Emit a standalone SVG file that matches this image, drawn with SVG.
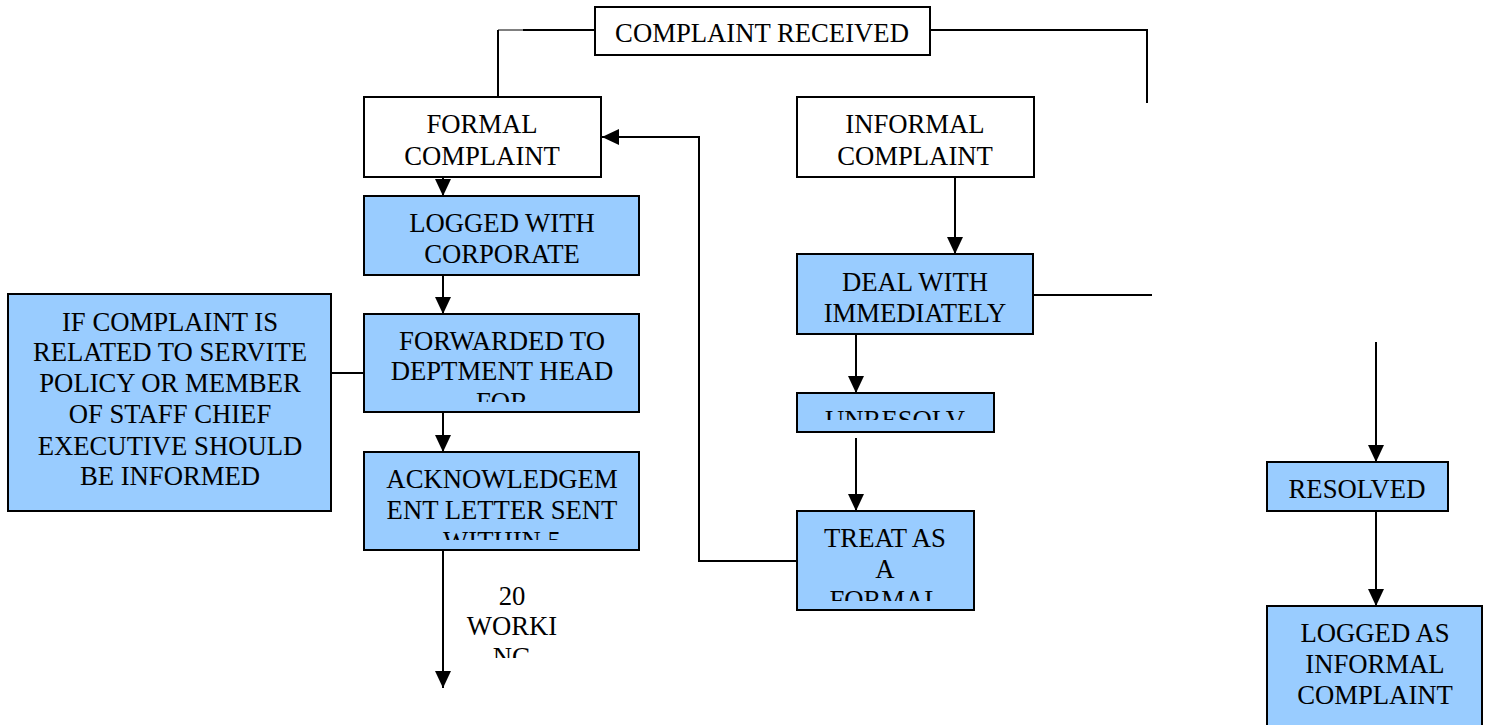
<svg xmlns="http://www.w3.org/2000/svg" width="1490" height="725" viewBox="0 0 1490 725">
<style>
.box{fill:#ffffff;stroke:#000000;stroke-width:2}
.blue{fill:#99ccff;stroke:#000000;stroke-width:2}
.t{font-family:"Liberation Serif","Times New Roman","DejaVu Serif",serif;font-size:26.7px;fill:#000000;text-anchor:middle}
.ln{fill:none;stroke:#000000;stroke-width:2}
.thin{fill:none;stroke:#000000;stroke-width:1}
.arr{fill:none;stroke:#000000;stroke-width:2;marker-end:url(#ah)}
</style>
<defs>
<marker id="ah" markerUnits="userSpaceOnUse" markerWidth="17" markerHeight="16" refX="17" refY="8" orient="auto">
<path d="M0,0 L17,8 L0,16 z" fill="#000000"/>
</marker>
<clipPath id="cFwd"><rect x="364" y="314" width="275" height="88"/></clipPath>
<clipPath id="cAck"><rect x="364" y="452" width="275" height="88"/></clipPath>
<clipPath id="cUnr"><rect x="797" y="393" width="197" height="27"/></clipPath>
<clipPath id="cTreat"><rect x="797" y="511" width="177" height="90"/></clipPath>
<clipPath id="cWork"><rect x="452" y="575" width="120" height="83"/></clipPath>
</defs>
<rect width="1490" height="725" fill="#ffffff"/>

<g id="connectors">
<path class="ln" d="M595,30 H523"/>
<path class="thin" d="M523,30 H498"/>
<path class="ln" d="M498,30 V103"/>
<path class="ln" d="M930,30 H1147 V103"/>
<path class="arr" d="M443,177 V196"/>
<path class="arr" d="M443,275 V314"/>
<path class="arr" d="M443,412 V452"/>
<path class="arr" d="M443,550 V688"/>
<path class="ln" d="M331,373 H364"/>
<path class="arr" d="M955,177 V254"/>
<path class="ln" d="M1033,295 H1152"/>
<path class="arr" d="M856,334 V393"/>
<path class="arr" d="M856,438 V511"/>
<path class="arr" d="M797,561 H699 V137 H602"/>
<path class="arr" d="M1376,342 V462"/>
<path class="arr" d="M1376,511 V606"/>
<g id="label-20-working" clip-path="url(#cWork)">
<text class="t" x="512" y="605">20</text>
<text class="t" x="512" y="635">WORKI</text>
<text class="t" x="512" y="666">NG</text>
</g>
</g>

<g id="complaint-received">
<rect class="box" x="595" y="7" width="335" height="48"/>
<text class="t" x="762" y="42">COMPLAINT RECEIVED</text>
</g>

<g id="formal-complaint">
<rect class="box" x="364" y="97" width="237" height="80"/>
<text class="t" x="482" y="133">FORMAL</text>
<text class="t" x="482" y="165">COMPLAINT</text>
</g>

<g id="logged-with-corporate">
<rect class="blue" x="364" y="196" width="275" height="79"/>
<text class="t" x="502" y="232">LOGGED WITH</text>
<text class="t" x="502" y="263">CORPORATE</text>
</g>

<g id="forwarded">
<rect class="blue" x="364" y="314" width="275" height="98"/>
<g clip-path="url(#cFwd)">
<text class="t" x="502" y="350">FORWARDED TO</text>
<text class="t" x="502" y="380">DEPTMENT HEAD</text>
<text class="t" x="502" y="411">FOR</text>
</g>
</g>

<g id="acknowledgement">
<rect class="blue" x="364" y="452" width="275" height="98"/>
<g clip-path="url(#cAck)">
<text class="t" x="502" y="488">ACKNOWLEDGEM</text>
<text class="t" x="502" y="519">ENT LETTER SENT</text>
<text class="t" x="502" y="550">WITHIN 5</text>
</g>
</g>

<g id="chief-executive">
<rect class="blue" x="8" y="294" width="323" height="217"/>
<text class="t" x="170" y="331">IF COMPLAINT IS</text>
<text class="t" x="170" y="361">RELATED TO SERVITE</text>
<text class="t" x="170" y="392">POLICY OR MEMBER</text>
<text class="t" x="170" y="423">OF STAFF CHIEF</text>
<text class="t" x="170" y="455">EXECUTIVE SHOULD</text>
<text class="t" x="170" y="485">BE INFORMED</text>
</g>

<g id="informal-complaint">
<rect class="box" x="797" y="97" width="237" height="80"/>
<text class="t" x="915" y="133">INFORMAL</text>
<text class="t" x="915" y="165">COMPLAINT</text>
</g>

<g id="deal-with-immediately">
<rect class="blue" x="797" y="254" width="236" height="80"/>
<text class="t" x="915" y="291">DEAL WITH</text>
<text class="t" x="915" y="322">IMMEDIATELY</text>
</g>

<g id="unresolved">
<rect class="blue" x="797" y="393" width="197" height="39"/>
<g clip-path="url(#cUnr)">
<text class="t" x="895" y="429">UNRESOLV</text>
</g>
</g>

<g id="treat-as-formal">
<rect class="blue" x="797" y="511" width="177" height="99"/>
<g clip-path="url(#cTreat)">
<text class="t" x="885" y="547">TREAT AS</text>
<text class="t" x="885" y="578">A</text>
<text class="t" x="885" y="609">FORMAL</text>
</g>
</g>

<g id="resolved">
<rect class="blue" x="1267" y="462" width="181" height="49"/>
<text class="t" x="1357" y="498">RESOLVED</text>
</g>

<g id="logged-as-informal">
<rect class="blue" x="1267" y="606" width="215" height="130"/>
<text class="t" x="1375" y="642">LOGGED AS</text>
<text class="t" x="1375" y="673">INFORMAL</text>
<text class="t" x="1375" y="704">COMPLAINT</text>
</g>
</svg>
